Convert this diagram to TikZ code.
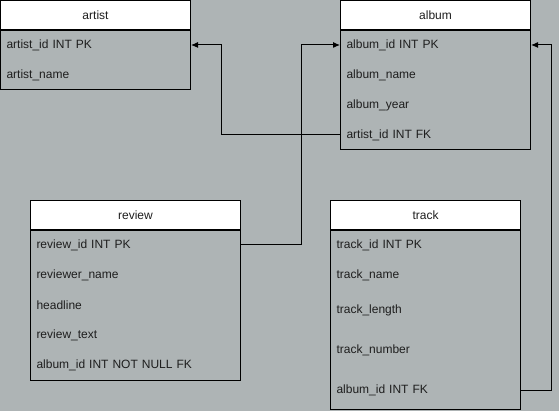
\documentclass[tikz,border=0pt]{standalone}
\usepackage{fontspec}
\setmainfont{Liberation Sans}
\usetikzlibrary{arrows.meta}
\definecolor{schemagray}{RGB}{174,180,181}
\definecolor{schematext}{RGB}{30,30,30}
\begin{document}
\begin{tikzpicture}[x=1pt, y=-1pt, line width=1pt,
	font=\fontsize{12}{14}\selectfont, text=schematext,
	tablehead/.style={draw, fill=white, minimum height=30pt, inner sep=0pt, anchor=north west},
	tablerow/.style={anchor=west, inner xsep=6pt, inner ysep=0pt, align=left},
	fklink/.style={-{Latex[length=7pt, width=6pt]}}]
	\fill [schemagray] (0,0) rectangle (559,411);
	\useasboundingbox (0,0) rectangle (559,411);
	% artist
	\node [tablehead, minimum width=190pt] (artist) at (0,0) {artist};
	\draw (0,30) rectangle (190,90);
	\node [tablerow, text width=178pt] (art-id) at (0,45) {artist\_id INT PK};
	\node [tablerow, text width=178pt] (art-name) at (0,75) {artist\_name};
	% album
	\node [tablehead, minimum width=190pt] (album) at (340,0) {album};
	\draw (340,30) rectangle (530,150);
	\node [tablerow, text width=178pt] (alb-id) at (340,45) {album\_id INT PK};
	\node [tablerow, text width=178pt] (alb-name) at (340,75) {album\_name};
	\node [tablerow, text width=178pt] (alb-year) at (340,105) {album\_year};
	\node [tablerow, text width=178pt] (alb-art) at (340,135) {artist\_id INT FK};
	% review
	\node [tablehead, minimum width=210pt] (review) at (30,200) {review};
	\draw (30,230) rectangle (240,380);
	\node [tablerow, text width=198pt] (rev-id) at (30,245) {review\_id INT PK};
	\node [tablerow, text width=198pt] (rev-name) at (30,275) {reviewer\_name};
	\node [tablerow, text width=198pt] (rev-head) at (30,305) {headline};
	\node [tablerow, text width=198pt] (rev-text) at (30,335) {review\_text};
	\node [tablerow, text width=198pt] (rev-alb) at (30,365) {album\_id INT NOT NULL FK};
	% track
	\node [tablehead, minimum width=190pt] (track) at (330,200) {track};
	\draw (330,230) rectangle (520,409.5);
	\node [tablerow, text width=178pt] (trk-id) at (330,245) {track\_id INT PK};
	\node [tablerow, text width=178pt] (trk-name) at (330,275) {track\_name};
	\node [tablerow, text width=178pt] (trk-len) at (330,310) {track\_length};
	\node [tablerow, text width=178pt] (trk-num) at (330,350) {track\_number};
	\node [tablerow, text width=178pt] (trk-alb) at (330,390) {album\_id INT FK};
	% links
	\draw [fklink] (alb-art.west) -- ++(-119,0) |- (art-id.east);
	\draw [fklink] (rev-id.east) -- ++(60,0) |- (alb-id.west);
	\draw [fklink] (trk-alb.east) -- ++(30,0) |- (alb-id.east);
\end{tikzpicture}
\end{document}
